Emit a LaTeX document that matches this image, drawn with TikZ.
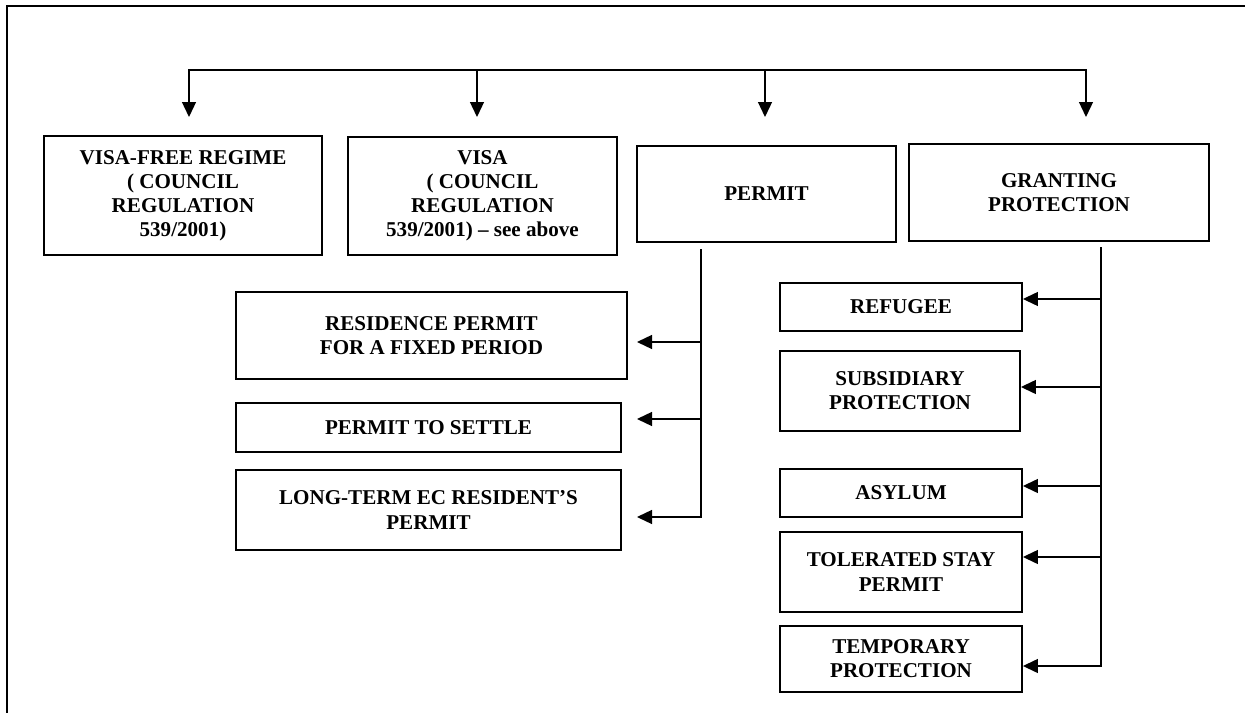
\documentclass[tikz,border=0pt]{standalone}
\usepackage{fontspec}
\setmainfont{Liberation Serif}
\usetikzlibrary{arrows.meta}

\begin{document}
\begin{tikzpicture}[x=0.02cm, y=-0.02cm,
  box/.style={draw, rectangle, line width=1.1pt, inner sep=0pt, align=center, font=\bfseries\fontsize{12}{13.7}\selectfont},
  link/.style={line width=0.75pt},
  arr/.style={line width=0.75pt, -{Triangle[length=0.3cm, width=0.28cm]}}]
\useasboundingbox (0,0) rectangle (1245,713);
\draw [line width=1.4pt] (1245,6) -- (7,6) -- (7,713);

\node (visafree) [box, minimum width=5.56cm, minimum height=2.38cm] at (183,195.5) {VISA-FREE REGIME\\( COUNCIL\\REGULATION\\539/2001)};
\node (visa) [box, minimum width=5.38cm, minimum height=2.36cm] at (482.5,196) {VISA\\( COUNCIL\\REGULATION\\539/2001) -- see above};
\node (permit) [box, minimum width=5.18cm, minimum height=1.92cm] at (766.5,194) {PERMIT};
\node (granting) [box, minimum width=6cm, minimum height=1.94cm] at (1059,192.5) {GRANTING\\PROTECTION};

\node (residence) [box, minimum width=7.82cm, minimum height=1.74cm] at (431.5,335.5) {RESIDENCE PERMIT\\FOR A FIXED PERIOD};
\node (settle) [box, minimum width=7.7cm, minimum height=0.98cm] at (428.5,427.5) {PERMIT TO SETTLE};
\node (longterm) [box, minimum width=7.7cm, minimum height=1.6cm] at (428.5,510) {LONG-TERM EC RESIDENT'S\\PERMIT};

\node (refugee) [box, minimum width=4.84cm, minimum height=0.96cm] at (901,307) {REFUGEE};
\node (subsidiary) [box, minimum width=4.8cm, minimum height=1.6cm] at (900,391) {SUBSIDIARY\\PROTECTION};
\node (asylum) [box, minimum width=4.84cm, minimum height=0.96cm] at (901,493) {ASYLUM};
\node (tolerated) [box, minimum width=4.84cm, minimum height=1.6cm] at (901,572) {TOLERATED STAY\\PERMIT};
\node (temporary) [box, minimum width=4.84cm, minimum height=1.32cm] at (901,659) {TEMPORARY\\PROTECTION};

% top bar
\coordinate (t1) at (189,70);
\coordinate (t2) at (477,70);
\coordinate (t3) at (765,70);
\coordinate (t4) at (1086,70);
\coordinate (a1) at (189,117);
\coordinate (a2) at (477,117);
\coordinate (a3) at (765,117);
\coordinate (a4) at (1086,117);

\draw [arr] (t2) -- (t1) -- (a1);
\draw [arr] (t2) -- (t4) -- (a4);
\draw [arr] (t2) -- (a2);
\draw [arr] (t3) -- (a3);

% permit branch
\coordinate (p0) at (701,249);
\coordinate (p1) at (701,342);
\coordinate (p2) at (701,419);
\coordinate (p3) at (701,517);
\coordinate (e1) at (637,342);
\coordinate (e2) at (637,419);
\coordinate (e3) at (637,517);

\draw [arr] (p0) -- (p3) -- (e3);
\draw [arr] (p1) -- (e1);
\draw [arr] (p2) -- (e2);

% protection branch
\coordinate (g0) at (1101,247);
\coordinate (g1) at (1101,299);
\coordinate (g2) at (1101,387);
\coordinate (g3) at (1101,486);
\coordinate (g4) at (1101,557);
\coordinate (g5) at (1101,666);

\draw [arr] (g0) -- (g5) -- (temporary.east |- g5);
\draw [arr] (g1) -- (refugee.east |- g1);
\draw [arr] (g2) -- (subsidiary.east |- g2);
\draw [arr] (g3) -- (asylum.east |- g3);
\draw [arr] (g4) -- (tolerated.east |- g4);
\end{tikzpicture}
\end{document}
